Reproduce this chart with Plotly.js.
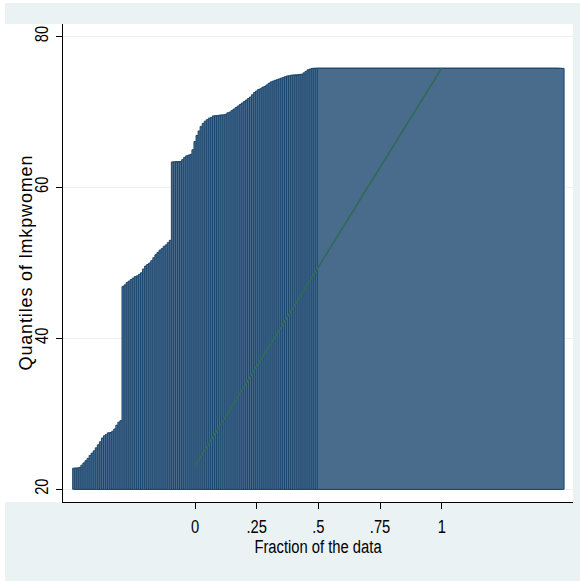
<!DOCTYPE html>
<html>
<head>
<meta charset="utf-8">
<script src="https://cdn.plot.ly/plotly-3.0.1.min.js"></script>
<style>
  html, body { margin: 0; padding: 0; background: #ffffff; }
  #chart { width: 580px; height: 581px; }
</style>
</head>
<body>
<div id="chart"></div>
<script>
const quantiles = [
  22.8, 22.8, 22.8, 22.9, 23.2, 23.5, 23.8, 24.1, 24.5, 24.8,
  25.1, 25.5, 25.9, 26.3, 26.8, 27.1, 27.3, 27.5, 27.5, 27.7,
  28.0, 28.5, 28.9, 29.1, 46.9, 47.1, 47.4, 47.6, 47.8, 48.0,
  48.2, 48.3, 48.5, 48.7, 49.2, 49.6, 49.8, 50.0, 50.3, 50.7,
  51.1, 51.4, 51.7, 51.9, 52.2, 52.4, 52.7, 53.0, 63.4, 63.4,
  63.4, 63.4, 63.4, 63.7, 64.0, 64.2, 64.3, 64.4, 65.0, 66.1,
  66.9, 67.5, 68.1, 68.5, 68.8, 69.0, 69.2, 69.3, 69.5, 69.5,
  69.5, 69.6, 69.6, 69.6, 69.7, 69.9, 70.0, 70.2, 70.4, 70.6,
  70.8, 71.0, 71.2, 71.4, 71.6, 71.8, 72.0, 72.3, 72.6, 72.8,
  73.0, 73.1, 73.3, 73.4, 73.6, 73.8, 74.0, 74.1, 74.2, 74.3,
  74.4, 74.5, 74.6, 74.7, 74.8, 74.8, 74.9, 74.9, 74.9, 74.9,
  75.0, 75.0, 75.2, 75.4, 75.6, 75.7, 75.8, 75.8, 75.8, 75.8
];
// Reference line (uniform) end points
const refLineX = [0, 1];
const refLineY = [23.1, 75.85];
// Axis ticks
const xTickVals = [0, 0.25, 0.5, 0.75, 1];
const xTickText = ['0', '.25', '.5', '.75', '1'];
const yTickVals = [20, 40, 60, 80];
const yTickText = ['20', '40', '60', '80'];
const barBase = 20;

// fraction of the data for each sorted observation
const n = quantiles.length;
const fractions = quantiles.map((_, i) => (i + 0.5) / n);

const font = '"Liberation Sans", Arial, sans-serif';

const traces = [
  {
    type: 'bar',
    x: fractions,
    y: quantiles.map(v => v - barBase),
    base: barBase,
    width: 1,
    marker: { color: '#496B8C', line: { color: '#1A476F', width: 1 } },
    hoverinfo: 'skip',
    showlegend: false
  },
  {
    type: 'scatter',
    mode: 'lines',
    x: refLineX,
    y: refLineY,
    line: { color: '#2F6B57', width: 1.6 },
    hoverinfo: 'skip',
    showlegend: false
  }
];

const L = 63, R = 573, T = 24, B = 502;
const W = R - L, H = B - T;
const px = X => (X - L) / W;
const py = Y => (B - Y) / H;

const layout = {
  width: 580,
  height: 581,
  margin: { l: L, r: 580 - R, t: T, b: 581 - B, pad: 0 },
  paper_bgcolor: '#ffffff',
  plot_bgcolor: '#ffffff',
  font: { family: font, size: 18, color: '#000000' },
  showlegend: false,
  hovermode: false,
  shapes: [
    { type: 'rect', xref: 'paper', yref: 'paper', x0: px(5), x1: px(580), y0: py(581), y1: py(3),
      fillcolor: '#EAF2F3', line: { width: 0 }, layer: 'below' },
    { type: 'rect', xref: 'paper', yref: 'paper', x0: px(5), x1: 1, y0: 0, y1: 1,
      fillcolor: '#ffffff', line: { width: 0 }, layer: 'below' }
  ],
  xaxis: {
    range: [-0.535, 1.532],
    tickmode: 'array',
    tickvals: xTickVals,
    ticktext: xTickText,
    ticks: 'outside',
    ticklen: 6,
    tickwidth: 1,
    tickcolor: '#000000',
    showline: true,
    linecolor: '#000000',
    linewidth: 1,
    showgrid: false,
    zeroline: false,
    ticklabelstandoff: 2,
    tickfont: { family: font, size: 18, color: '#000000' },
    title: { text: 'Fraction of the data', font: { family: font, size: 18, color: '#000000' }, standoff: 0 }
  },
  yaxis: {
    range: [18.32, 81.68],
    tickmode: 'array',
    tickvals: yTickVals,
    ticktext: yTickText,
    tickangle: -90,
    ticks: 'outside',
    ticklen: 6,
    tickwidth: 1,
    tickcolor: '#000000',
    showline: true,
    linecolor: '#000000',
    linewidth: 1,
    showgrid: true,
    gridcolor: '#EAF2F3',
    gridwidth: 1.5,
    zeroline: false,
    ticklabelstandoff: 1,
    tickfont: { family: font, size: 18, color: '#000000' },
    title: { text: 'Quantiles of lmkpwomen', font: { family: font, size: 18, color: '#000000' }, standoff: 0 }
  },
  bargap: 0
};

Plotly.newPlot('chart', traces, layout, { displayModeBar: false, staticPlot: true }).then(() => {
  // mimic the condensed Stata font: squeeze glyphs horizontally
  const squeeze = (sel, factor) => document.querySelectorAll(sel).forEach(t => {
    const len = t.getComputedTextLength();
    t.setAttribute('textLength', (len * factor).toFixed(1));
    t.setAttribute('lengthAdjust', 'spacingAndGlyphs');
  });
  squeeze('.xtick text', 0.82);
  squeeze('.ytick text', 0.82);
  squeeze('.xtitle', 0.82);
  const yt = document.querySelector('.ytitle');
  if (yt) {
    yt.setAttribute('textLength', '215');
    yt.setAttribute('lengthAdjust', 'spacing');
    const x = parseFloat(yt.getAttribute('x')) + 6;
    const y = parseFloat(yt.getAttribute('y'));
    if (!isNaN(x) && !isNaN(y)) {
      yt.setAttribute('x', x);
      yt.setAttribute('transform', 'rotate(-90,' + x + ',' + y + ')');
    }
  }
});
</script>
</body>
</html>
